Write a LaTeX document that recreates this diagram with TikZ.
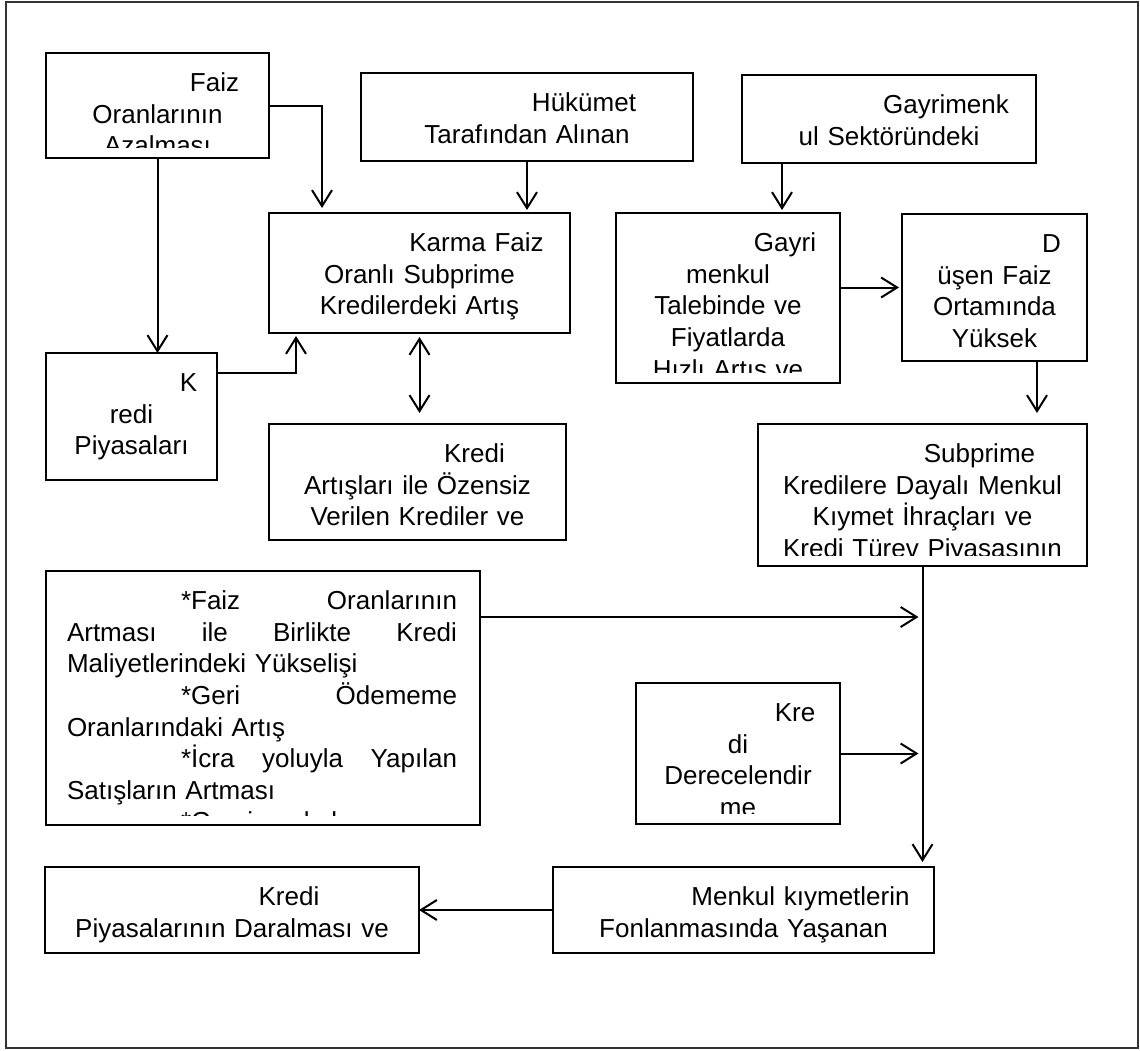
\documentclass[tikz,border=0pt]{standalone}
\usepackage{fontspec}
\setmainfont{Liberation Sans}
\usetikzlibrary{arrows.meta}
\tikzset{>={Straight Barb[length=8pt,width=10pt]}}
\tikzset{
  box/.style={draw, line width=1.3pt, inner sep=0pt, outer sep=0pt, anchor=north west},
  txt/.style={font=\fontsize{13}{15.8}\selectfont, align=center, inner sep=0pt, outer sep=0pt, anchor=north}
}
\newcommand{\fli}{\strut\hspace*{57pt}}
\newcommand{\boxtext}[3]{%
  \begin{scope}
    \clip ([yshift=5.5pt]#1.south west) rectangle (#1.north east);
    \node[txt, text width=#2] (#1t) at ([yshift=-8.3pt]#1.north) {#3};
  \end{scope}}

\begin{document}
\begin{tikzpicture}[line width=1pt]
  \useasboundingbox (0,0) rectangle (570pt,-525pt);
  \draw[black!80] (3pt,-1pt) rectangle (569pt,-524pt);

  \node[box, minimum width=111.5pt, minimum height=52.5pt] (faiz) at (23pt,-26.5pt) {};
  \node[box, minimum width=166pt, minimum height=44pt] (hukumet) at (180.5pt,-36.5pt) {};
  \node[box, minimum width=147pt, minimum height=44pt] (gayrimenk) at (371pt,-37.5pt) {};
  \node[box, minimum width=150.5pt, minimum height=60pt] (karma) at (134.5pt,-106.5pt) {};
  \node[box, minimum width=112pt, minimum height=85pt] (gayri) at (308pt,-106.5pt) {};
  \node[box, minimum width=92.5pt, minimum height=73.5pt] (dfaiz) at (451pt,-107pt) {};
  \node[box, minimum width=85.5pt, minimum height=63.5pt] (kredi) at (23pt,-176.5pt) {};
  \node[box, minimum width=148.5pt, minimum height=58pt] (kredart) at (134.5pt,-212pt) {};
  \node[box, minimum width=164.5pt, minimum height=71pt] (subprime) at (379pt,-212pt) {};
  \node[box, minimum width=217pt, minimum height=127pt] (faizart) at (23pt,-285.5pt) {};
  \node[box, minimum width=102pt, minimum height=70.5pt] (kredider) at (318pt,-341.5pt) {};
  \node[box, minimum width=190.5pt, minimum height=43pt] (menkul) at (276.5pt,-433.5pt) {};
  \node[box, minimum width=187pt, minimum height=43pt] (daralma) at (22.5pt,-433.5pt) {};

  \boxtext{faiz}{101pt}{\fli Faiz\\Oranlarının\\Azalması}
  \boxtext{hukumet}{156pt}{\fli Hükümet\\Tarafından Alınan}
  \boxtext{gayrimenk}{137pt}{\fli Gayrimenk\\ul Sektöründeki}
  \boxtext{karma}{140pt}{\fli Karma Faiz\\Oranlı Subprime\\Kredilerdeki Artış}
  \boxtext{gayri}{102pt}{\fli Gayri\\menkul\\Talebinde ve\\Fiyatlarda\\Hızlı Artış ve}
  \boxtext{dfaiz}{82.5pt}{\fli D\\üşen Faiz\\Ortamında\\Yüksek}
  \boxtext{kredi}{75.5pt}{\fli K\\redi\\Piyasaları}
  \boxtext{kredart}{138.5pt}{\fli Kredi\\Artışları ile Özensiz\\Verilen Krediler ve}
  \boxtext{subprime}{154.5pt}{\fli Subprime\\Kredilere Dayalı Menkul\\Kıymet İhraçları ve\\Kredi Türev Piyasasının}
  \boxtext{kredider}{92pt}{\fli Kre\\di\\Derecelendir\\me}
  \boxtext{menkul}{180.5pt}{\fli Menkul kıymetlerin\\Fonlanmasında Yaşanan}
  \boxtext{daralma}{177pt}{\fli Kredi\\Piyasalarının Daralması ve}
  \begin{scope}
    \clip ([yshift=4.8pt]faizart.south west) rectangle (faizart.north east);
    \node[txt, align=left, text width=195pt, anchor=north west] (faizartt) at ([xshift=10.5pt,yshift=-8.3pt]faizart.north west)
      {\fli *Faiz\hfill Oranlarının\\Artması\hfill ile\hfill Birlikte\hfill Kredi\\Maliyetlerindeki Yükselişi\\
       \hspace*{57pt}*Geri\hfill Ödememe\\Oranlarındaki Artış\\\hspace*{57pt}*İcra\hfill yoluyla\hfill Yapılan\\
       Satışların Artması\\\hspace*{57pt}*Gayrimenkul};
  \end{scope}

  \draw[->, shorten >=2.5pt] (faiz.east) -| ([xshift=26.5pt]karma.north west);
  \draw[->, shorten >=1.5pt] (hukumet.south) -- (hukumet.south |- karma.north);
  \draw[->] (faiz.south) -- (faiz.south |- kredi.north);
  \draw[->, shorten >=1.5pt] ([xshift=20pt]gayrimenk.south west) -- ([xshift=20pt]gayrimenk.south west |- gayri.north);
  \draw[->, shorten >=1.5pt] ([yshift=-10pt]kredi.north east) -| ([xshift=13.5pt]karma.south west);
  \draw[<->, shorten <=2pt, shorten >=5.5pt] (karma.south) -- (karma.south |- kredart.north);
  \draw[->, shorten >=1.5pt] (gayri.east |- dfaiz.west) -- (dfaiz.west);
  \draw[->, shorten >=5.5pt] ([xshift=67.5pt]dfaiz.south west) -- ([xshift=67.5pt]dfaiz.south west |- subprime.north);
  \draw[->, shorten >=2.5pt] (subprime.south) -- (subprime.south |- menkul.north);
  \draw[->, shorten >=2pt] ([yshift=-23pt]faizart.north east) -- ([yshift=-23pt]faizart.north east -| subprime.south);
  \draw[->, shorten >=2pt] (kredider.east) -- (kredider.east -| subprime.south);
  \draw[->] (menkul.west) -- (daralma.east);
\end{tikzpicture}
\end{document}
